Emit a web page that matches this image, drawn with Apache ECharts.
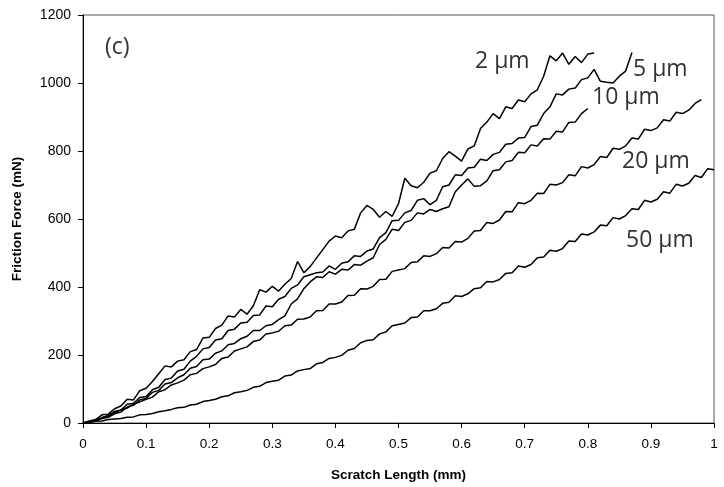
<!DOCTYPE html>
<html>
<head>
<meta charset="utf-8">
<script src="https://cdn.jsdelivr.net/npm/echarts@6/dist/echarts.min.js"></script>
<style>html,body{margin:0;padding:0;background:#fff}#c{width:724px;height:487px}</style>
</head>
<body>
<div id="c"></div>
<script>
// Scratch length (mm), sampled every 0.01 mm
const xs = [0,0.01,0.02,0.03,0.04,0.05,0.06,0.07,0.08,0.09,0.1,0.11,0.12,0.13,0.14,0.15,0.16,0.17,0.18,0.19,0.2,0.21,0.22,0.23,0.24,0.25,0.26,0.27,0.28,0.29,0.3,0.31,0.32,0.33,0.34,0.35,0.36,0.37,0.38,0.39,0.4,0.41,0.42,0.43,0.44,0.45,0.46,0.47,0.48,0.49,0.5,0.51,0.52,0.53,0.54,0.55,0.56,0.57,0.58,0.59,0.6,0.61,0.62,0.63,0.64,0.65,0.66,0.67,0.68,0.69,0.7,0.71,0.72,0.73,0.74,0.75,0.76,0.77,0.78,0.79,0.8,0.81,0.82,0.83,0.84,0.85,0.86,0.87,0.88,0.89,0.9,0.91,0.92,0.93,0.94,0.95,0.96,0.97,0.98,0.99,1];

// Friction force (mN) per tip radius
const f2um = [0,6,10,24,26,42,50,70,68,95,102,122,145,168,165,182,186,210,216,250,252,278,288,315,312,334,320,345,392,385,402,388,408,425,475,442,460,485,510,535,550,545,565,570,618,640,628,605,622,608,645,720,698,692,708,735,742,778,798,785,770,806,815,866,885,910,895,930,925,950,945,968,980,1020,1080,1065,1088,1055,1078,1060,1085,1088];
const f5um = [0,4,7,16,21,34,38,55,58,75,78,98,105,128,132,153,158,182,196,218,222,244,248,272,276,294,296,316,318,344,342,364,372,396,406,430,436,442,444,462,452,470,474,492,490,506,512,545,560,595,596,618,625,655,660,642,655,695,700,730,728,750,752,776,772,790,796,820,822,838,840,872,876,910,930,968,965,982,985,1010,1015,1040,1005,1002,1000,1020,1035,1090];
const f10um = [0,3,5,13,17,27,32,47,52,68,73,90,96,115,119,133,142,161,166,186,188,205,212,230,234,248,255,272,272,286,290,304,315,350,365,395,415,430,428,445,438,452,450,466,464,476,486,525,540,570,566,590,596,618,615,628,622,630,636,680,700,718,696,698,712,742,745,768,772,796,795,818,815,836,835,858,856,884,885,910,925];
const f20um = [0,4,9,15,22,30,38,44,56,62,70,76,92,98,112,118,126,142,146,160,165,172,190,194,212,218,224,240,244,262,265,270,286,288,305,306,312,330,331,350,350,356,375,376,395,394,402,422,423,446,450,454,472,474,492,490,498,516,515,534,532,543,565,566,590,587,597,622,621,648,645,655,676,675,702,700,707,730,727,754,750,760,784,781,808,805,815,838,835,864,860,868,892,888,914,910,920,940,951];
const f50um = [0,2,5,6,10,12,13,17,18,24,25,28,33,36,40,45,46,53,55,63,66,70,77,80,89,92,96,105,108,119,123,126,138,141,153,157,160,174,178,190,193,199,214,219,236,243,245,262,268,286,290,294,310,312,330,330,336,352,355,374,372,380,395,398,416,415,422,440,442,462,458,466,486,488,508,505,513,535,534,556,553,562,582,580,604,600,610,630,628,655,650,658,680,676,702,697,705,728,722,748,745];

const seriesNames = ['2 µm','5 µm','10 µm','20 µm','50 µm'];
const seriesValues = [f2um, f5um, f10um, f20um, f50um];
const panelLabel = '(c)';
const xTitle = 'Scratch Length (mm)';
const yTitle = 'Friction Force (mN)';

const chart = echarts.init(document.getElementById('c'), null, {renderer:'canvas'});

const series = seriesValues.map((vals, k) => ({
  name: seriesNames[k],
  type: 'line',
  data: vals.map((v, i) => [xs[i], v]),
  showSymbol: false,
  symbol: 'none',
  lineStyle: {color: '#000', width: 1.5},
  animation: false,
  z: 3
}));

const labelFont = "23px 'Open Sans'";
const annot = [
  {t: panelLabel, x: 105, y: 52},
  {t: seriesNames[0], x: 475, y: 66},
  {t: seriesNames[1], x: 633, y: 74},
  {t: seriesNames[2], x: 592, y: 102},
  {t: seriesNames[3], x: 622, y: 166},
  {t: seriesNames[4], x: 626, y: 245}
];

chart.setOption({
  backgroundColor: '#fff',
  animation: false,
  grid: {left: 83, right: 10, top: 15, bottom: 63, show: true, borderColor: '#555', borderWidth: 1},
  xAxis: {
    type: 'value', min: 0, max: 1, interval: 0.1,
    name: xTitle, nameLocation: 'middle', nameGap: 45,
    nameTextStyle: {fontFamily: 'Liberation Sans', fontWeight: 'bold', fontSize: 13.5, color: '#000'},
    axisLine: {show: true, lineStyle: {color: '#000', width: 1}},
    axisTick: {show: true, length: 5, inside: false, lineStyle: {color: '#000'}},
    axisLabel: {fontFamily: 'Liberation Sans', fontSize: 13.5, color: '#000', margin: 14,
      formatter: v => String(+v.toFixed(1))},
    splitLine: {show: false}
  },
  yAxis: {
    type: 'value', min: 0, max: 1200, interval: 200,
    name: yTitle, nameLocation: 'middle', nameGap: 59,
    nameTextStyle: {fontFamily: 'Liberation Sans', fontWeight: 'bold', fontSize: 13.5, color: '#000'},
    axisLine: {show: true, lineStyle: {color: '#000', width: 1}},
    axisTick: {show: true, length: 5, inside: false, lineStyle: {color: '#000'}},
    axisLabel: {fontFamily: 'Liberation Sans', fontSize: 14, color: '#000', margin: 12,
      formatter: v => String(v)},
    splitLine: {show: false}
  },
  series: series,
  graphic: annot.map(a => ({
    type: 'text', left: a.x, top: a.y - 16, z: 10,
    style: {text: a.t, font: labelFont, fill: '#333'}
  }))
});
</script>
</body>
</html>
